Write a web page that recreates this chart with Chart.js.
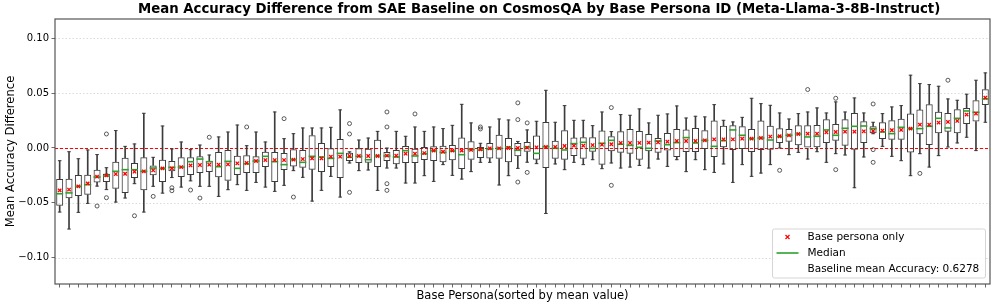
<!DOCTYPE html>
<html><head><meta charset="utf-8">
<script src="https://cdn.jsdelivr.net/npm/chart.js@4.4.1/dist/chart.umd.min.js"></script>
<style>html,body{margin:0;padding:0;background:#fff}#wrap{width:997px;height:307px;position:relative}</style>
</head><body><div id="wrap"><canvas id="c"></canvas></div>
<script>
const personaRank = [1,2,3,4,5,6,7,8,9,10,11,12,13,14,15,16,17,18,19,20,21,22,23,24,25,26,27,28,29,30,31,32,33,34,35,36,37,38,39,40,41,42,43,44,45,46,47,48,49,50,51,52,53,54,55,56,57,58,59,60,61,62,63,64,65,66,67,68,69,70,71,72,73,74,75,76,77,78,79,80,81,82,83,84,85,86,87,88,89,90,91,92,93,94,95,96,97,98,99,100];
const whiskerHigh = [-0.0116,-0.0034,-0.0098,-0.0018,-0.006,-0.018,0.0159,0.0015,0.0037,0.0317,-0.0085,0.0201,-0.0009,0.0055,-0.0015,0.0027,-0.0064,0.0101,0.0146,0.021,0.0021,0.0146,0.0055,0.0329,0.0085,0.0131,0.0183,0.0183,0.0183,0.0189,0.0348,-0.0035,0.0073,0.0091,0.0152,0.0,0.0152,0.0107,0.0192,0.0152,0.0192,0.0177,0.0207,0.0399,0.0229,0.0043,0.0192,0.0265,0.0256,0.006,0.0165,0.0244,0.0527,0.0235,0.0387,0.0253,0.0253,0.0204,0.0329,0.015,0.0305,0.0299,0.0357,0.0229,0.0299,0.0311,0.0384,0.0274,0.029,0.0284,0.0396,0.0253,0.0238,0.028,0.0454,0.0405,0.039,0.032,0.0265,0.0314,0.0329,0.0366,0.032,0.0421,0.0329,0.0457,0.032,0.0235,0.0314,0.0375,0.0387,0.0665,0.0588,0.0579,0.0564,0.0448,0.0436,0.0491,0.0619,0.0686];
const q3 = [-0.0284,-0.028,-0.0247,-0.0244,-0.0198,-0.0235,-0.0125,-0.0088,-0.0137,-0.0085,-0.0159,-0.0107,-0.0119,-0.0085,-0.0085,-0.0076,-0.0119,-0.0037,-0.0018,-0.007,-0.0067,-0.0076,-0.0034,-0.0037,-0.0046,-0.0012,-0.0018,0.0116,0.0046,-0.0003,0.0082,-0.0043,-0.0003,-0.0006,0.0076,-0.0037,-0.0018,0.0018,-0.0006,0.0009,0.0015,0.0021,0.0027,0.0095,0.0061,0.0009,0.0046,0.0122,0.0091,0.0046,0.0055,0.0113,0.0238,0.0067,0.0162,0.0095,0.0098,0.0098,0.0159,0.0107,0.0152,0.0174,0.0155,0.0128,0.0091,0.0137,0.0174,0.0168,0.0183,0.0162,0.025,0.0204,0.0207,0.0198,0.0174,0.025,0.0204,0.018,0.0174,0.0207,0.0207,0.021,0.0262,0.022,0.0262,0.032,0.0244,0.0198,0.0235,0.0253,0.0268,0.0314,0.0351,0.0399,0.0332,0.032,0.0354,0.0366,0.0436,0.0537];
const median = [-0.0418,-0.041,-0.035,-0.0335,-0.0265,-0.0255,-0.0213,-0.0198,-0.0198,-0.0213,-0.0183,-0.0186,-0.0177,-0.0174,-0.0125,-0.0101,-0.0125,-0.0171,-0.0122,-0.0186,-0.0143,-0.0119,-0.0076,-0.0125,-0.0152,-0.0107,-0.0131,-0.0076,-0.0082,-0.0095,-0.0049,-0.0085,-0.0076,-0.0107,-0.0073,-0.0073,-0.0082,-0.0024,-0.0073,-0.0052,-0.0024,-0.004,-0.0027,-0.0061,-0.0015,-0.0018,-0.0009,-0.0003,0.0009,-0.0021,0.0009,-0.0049,0.0012,-0.0003,-0.0018,0.004,0.0052,-0.0003,0.0043,0.007,0.0034,0.0024,0.0006,-0.0003,0.0064,0.003,0.0049,0.0095,0.0046,0.007,0.0015,0.0067,0.0165,0.0116,0.0085,0.0091,0.0073,0.0104,0.0116,0.0128,0.0101,0.0107,0.0165,0.0116,0.018,0.0198,0.0201,0.0177,0.0146,0.0131,0.0189,0.0177,0.0177,0.0198,0.0271,0.0183,0.0271,0.0338,0.0326,0.0448];
const q1 = [-0.0527,-0.046,-0.0439,-0.0427,-0.0314,-0.031,-0.0372,-0.0412,-0.0274,-0.0387,-0.025,-0.0311,-0.0213,-0.0265,-0.0247,-0.0229,-0.022,-0.0268,-0.0299,-0.0247,-0.0229,-0.0229,-0.0174,-0.0311,-0.0201,-0.0168,-0.018,-0.0198,-0.022,-0.0174,-0.0274,-0.0119,-0.0137,-0.0134,-0.0174,-0.0119,-0.0149,-0.0137,-0.0137,-0.011,-0.0119,-0.0131,-0.0113,-0.0192,-0.0107,-0.0091,-0.0095,-0.0098,-0.0131,-0.0076,-0.0034,-0.0107,-0.0183,-0.0098,-0.0107,-0.0073,-0.0098,-0.0034,-0.0152,-0.003,-0.0043,-0.0052,-0.0107,-0.003,-0.0043,-0.0024,-0.0082,-0.0037,-0.0037,-0.0009,-0.0082,0.0006,-0.0018,-0.0009,-0.0037,-0.0018,-0.0015,0.0046,0.0058,0.0024,0.0,0.0006,0.0046,0.0067,0.0021,-0.0015,0.0046,0.0134,0.0082,0.0076,0.0076,-0.004,0.0125,0.0027,0.0134,0.0149,0.0134,0.022,0.0241,0.0393];
const whiskerLow = [-0.0585,-0.074,-0.0588,-0.0506,-0.0348,-0.038,-0.0494,-0.0457,-0.0326,-0.0585,-0.035,-0.0412,-0.027,-0.0357,-0.03,-0.035,-0.035,-0.0442,-0.0381,-0.0335,-0.0387,-0.0314,-0.0357,-0.0396,-0.0341,-0.0207,-0.0268,-0.0485,-0.0387,-0.0259,-0.0448,-0.0137,-0.0207,-0.0201,-0.0387,-0.0183,-0.0183,-0.032,-0.032,-0.0253,-0.0305,-0.0152,-0.025,-0.0284,-0.0216,-0.0131,-0.0131,-0.0338,-0.0253,-0.0186,-0.013,-0.0143,-0.0598,-0.0146,-0.0198,-0.0131,-0.0152,-0.0107,-0.0189,-0.0137,-0.0183,-0.0174,-0.0159,-0.0183,-0.0101,-0.0168,-0.0107,-0.0216,-0.0107,-0.0198,-0.0223,-0.0146,-0.0314,-0.0152,-0.0259,-0.0229,-0.0152,0.0,-0.0061,-0.004,-0.0101,-0.0034,-0.0131,-0.0052,-0.0064,-0.0363,-0.0082,0.013,0.0015,-0.0076,-0.0116,-0.0253,-0.0052,-0.0174,-0.007,0.0009,0.0046,0.0098,-0.0024,0.0235];
const basePersonaMean = [-0.0387,-0.038,-0.035,-0.0323,-0.0262,-0.025,-0.0238,-0.0235,-0.0216,-0.0213,-0.0204,-0.0186,-0.0186,-0.0174,-0.0159,-0.0155,-0.0152,-0.0152,-0.0149,-0.014,-0.0137,-0.0119,-0.011,-0.011,-0.011,-0.0107,-0.0101,-0.0095,-0.0095,-0.0079,-0.0079,-0.0073,-0.0073,-0.0073,-0.0073,-0.007,-0.007,-0.0052,-0.0052,-0.0046,-0.0024,-0.0034,-0.0024,-0.0024,-0.0018,-0.0012,-0.0003,-0.0003,0.0,0.0,0.0003,0.0006,0.0009,0.0009,0.0018,0.0021,0.0021,0.0027,0.003,0.0034,0.0046,0.0046,0.0046,0.0049,0.0052,0.0058,0.0064,0.0064,0.0064,0.007,0.0079,0.0079,0.0079,0.0085,0.0085,0.0091,0.0104,0.0107,0.0116,0.0128,0.0131,0.0131,0.0143,0.0146,0.0149,0.0149,0.0152,0.0155,0.0159,0.0162,0.0165,0.0177,0.0213,0.0213,0.0232,0.0238,0.0247,0.0305,0.0314,0.046];
const outlierRank = [5,6,6,9,11,13,13,15,16,17,21,25,26,32,32,32,36,36,36,36,39,46,46,50,50,50,51,51,60,60,78,81,84,84,88,88,88,93,96];
const outlierValue = [-0.053,0.0128,-0.0454,-0.0619,-0.0442,-0.0363,-0.039,-0.0384,-0.0457,0.0098,0.0192,0.0268,-0.0448,0.0223,0.0128,-0.0405,0.0329,0.0192,-0.0326,-0.0387,0.0311,0.0192,0.0174,0.0412,0.0259,-0.0311,0.0229,-0.0223,0.0369,-0.0341,-0.0204,0.0534,0.0454,-0.0198,0.0402,-0.0015,-0.0131,-0.0232,0.0619];
const yTickValues = [-0.10, -0.05, 0.00, 0.05, 0.10];
const baselineDiff = 0;
const baselineAccuracy = 0.6278;
const yMin = -0.1242, yMax = 0.1178;

const categories = personaRank.map(String);
const FONT = 'DejaVu Sans';
const EDGE = '#3c3c3c';

const gridAndZero = {
  id: 'gridAndZero',
  beforeDatasetsDraw(chart) {
    const {ctx, chartArea: a, scales: {y}} = chart;
    ctx.save();
    ctx.strokeStyle = '#d0d0d0'; ctx.lineWidth = 0.8; ctx.setLineDash([1.5, 2]);
    yTickValues.forEach(v => {
      const py = Math.round(y.getPixelForValue(v)) + 0.5;
      ctx.beginPath(); ctx.moveTo(a.left, py); ctx.lineTo(a.right, py); ctx.stroke();
    });
    ctx.strokeStyle = '#ff0000'; ctx.lineWidth = 1; ctx.setLineDash([3, 2]);
    const zy = Math.round(y.getPixelForValue(baselineDiff)) + 0.5;
    ctx.beginPath(); ctx.moveTo(a.left, zy); ctx.lineTo(a.right, zy); ctx.stroke();
    ctx.restore();
  },
  afterDraw(chart) {
    const {ctx, chartArea: a} = chart;
    ctx.save();
    ctx.strokeStyle = '#555'; ctx.lineWidth = 1.2; ctx.setLineDash([]);
    ctx.strokeRect(a.left, a.top, a.right - a.left, a.bottom - a.top);
    // title
    ctx.fillStyle = '#000';
    ctx.font = 'bold 13.3px "' + FONT + '"';
    ctx.textAlign = 'left'; ctx.textBaseline = 'middle';
    ctx.fillText('Mean Accuracy Difference from SAE Baseline on CosmosQA by Base Persona ID (Meta-Llama-3-8B-Instruct)', 138, 10);
    // legend
    const lw = 213, lh = 49;
    const lx = a.right - 4.5 - lw, ly = a.bottom - 6 - lh;
    ctx.fillStyle = 'rgba(255,255,255,0.85)';
    ctx.strokeStyle = '#d5d5d5'; ctx.lineWidth = 1;
    ctx.beginPath();
    if (ctx.roundRect) ctx.roundRect(lx, ly, lw, lh, 2); else ctx.rect(lx, ly, lw, lh);
    ctx.fill(); ctx.stroke();
    const r1 = ly + 8, r2 = ly + 24, r3 = ly + 40;
    ctx.strokeStyle = '#ff0000'; ctx.lineWidth = 1.2;
    const mx = lx + 15, s = 2;
    ctx.beginPath(); ctx.moveTo(mx - s, r1 - s); ctx.lineTo(mx + s, r1 + s); ctx.moveTo(mx + s, r1 - s); ctx.lineTo(mx - s, r1 + s); ctx.stroke();
    ctx.strokeStyle = '#2ca02c'; ctx.lineWidth = 1.6;
    ctx.beginPath(); ctx.moveTo(lx + 4, r2); ctx.lineTo(lx + 26, r2); ctx.stroke();
    ctx.fillStyle = '#000'; ctx.font = '10.5px "' + FONT + '"'; ctx.textAlign = 'left';
    ctx.fillText('Base persona only', lx + 35, r1);
    ctx.fillText('Median', lx + 35, r2);
    ctx.fillText('Baseline mean Accuracy: ' + baselineAccuracy.toFixed(4), lx + 35, r3);
    ctx.restore();
  }
};

const barCommon = {type: 'bar', grouped: false, categoryPercentage: 1, borderSkipped: false};
const pointCommon = {type: 'line', showLine: false, pointHoverRadius: 0};

new Chart(document.getElementById('c'), {
  type: 'bar',
  data: {
    labels: categories,
    datasets: [
      Object.assign({}, barCommon, {label: 'lowWhisker', data: categories.map((c, i) => [whiskerLow[i], q1[i]]), backgroundColor: EDGE, barThickness: 1, order: 10}),
      Object.assign({}, barCommon, {label: 'highWhisker', data: categories.map((c, i) => [q3[i], whiskerHigh[i]]), backgroundColor: EDGE, barThickness: 1, order: 10}),
      Object.assign({}, barCommon, {label: 'box', data: categories.map((c, i) => [q1[i], q3[i]]), backgroundColor: 'rgba(0,0,0,0)', borderColor: EDGE, borderWidth: 1, barPercentage: 0.75, order: 9}),
      Object.assign({}, pointCommon, {label: 'capHigh', data: whiskerHigh, pointStyle: 'line', pointRadius: 1.8, pointBorderColor: EDGE, pointBorderWidth: 1, order: 5}),
      Object.assign({}, pointCommon, {label: 'capLow', data: whiskerLow, pointStyle: 'line', pointRadius: 1.8, pointBorderColor: EDGE, pointBorderWidth: 1, order: 5}),
      Object.assign({}, pointCommon, {label: 'Median', data: median, pointStyle: 'line', pointRadius: 3.5, pointBorderColor: '#2ca02c', pointBorderWidth: 1.6, order: 3}),
      Object.assign({}, pointCommon, {label: 'outliers', data: outlierRank.map((r, i) => ({x: String(r), y: outlierValue[i]})), pointStyle: 'circle', pointRadius: 2, pointBorderColor: '#333', pointBackgroundColor: 'rgba(0,0,0,0)', pointBorderWidth: 0.8, order: 2}),
      Object.assign({}, pointCommon, {label: 'Base persona only', data: basePersonaMean, pointStyle: 'crossRot', pointRadius: 2.4, pointBorderColor: '#ff0000', pointBorderWidth: 1.3, order: 1})
    ]
  },
  options: {
    responsive: true, maintainAspectRatio: false, animation: false, events: [], devicePixelRatio: 1,
    layout: {padding: {top: 19, right: 7, left: 0, bottom: 0}},
    plugins: {legend: {display: false}, tooltip: {enabled: false}, title: {display: false}},
    scales: {
      x: {
        type: 'category', offset: true,
        grid: {display: true, drawOnChartArea: false, drawTicks: true, tickLength: 3.5, offset: false, color: '#444', lineWidth: 0.8},
        border: {display: false},
        ticks: {display: false},
        title: {display: true, text: 'Base Persona(sorted by mean value)', color: '#000', font: {family: FONT, size: 11.5}, padding: {top: 0, bottom: 4}},
        afterFit: s => { s.height = 23; }
      },
      y: {
        type: 'linear', min: yMin, max: yMax,
        afterBuildTicks: s => { s.ticks = yTickValues.map(v => ({value: v})); },
        ticks: {color: '#000', font: {family: FONT, size: 10}, padding: 2.5,
          callback: v => (v < -1e-9 ? '\u2212' : '') + Math.abs(v).toFixed(2)},
        grid: {display: true, drawOnChartArea: false, drawTicks: true, tickLength: 3.5, color: '#444', lineWidth: 0.8},
        border: {display: false},
        title: {display: true, text: 'Mean Accuracy Difference', color: '#000', font: {family: FONT, size: 11.6}, padding: {top: 4.5, bottom: 0}},
        afterFit: s => { s.width = 55; }
      }
    }
  },
  plugins: [gridAndZero]
});
</script></body></html>
